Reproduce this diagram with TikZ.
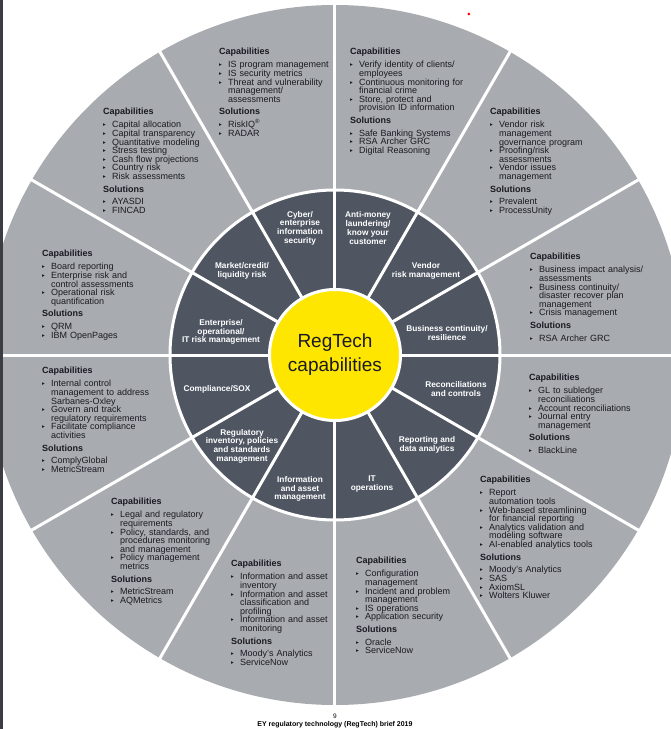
\documentclass[tikz,border=0pt]{standalone}
\usepackage{fontspec}
\setmainfont{Liberation Sans}
\newfontfamily\symfont{DejaVu Sans}
\usetikzlibrary{positioning}

\definecolor{eyyellow}{HTML}{FFE600}
\definecolor{outergray}{HTML}{A8ABAF}
\definecolor{innergray}{HTML}{4F5662}
\definecolor{eyink}{HTML}{1A1A24}
\definecolor{edgegray}{HTML}{3C3C44}

\newcommand{\blockfont}{\fontsize{9}{8.6}\selectfont\lineskiplimit=-9pt}
\newcommand{\areafont}{\fontsize{8.3}{8.7}\selectfont\bfseries\lineskiplimit=-9pt}
\newcommand{\bitem}[1]{\par\hangindent=9pt\hangafter=1\noindent\makebox[9pt][l]{\raisebox{1.1pt}{\symfont\fontsize{5.5}{5.5}\selectfont ▸}}{\let\\\newline#1}}
\newcommand{\caphead}{\noindent\textbf{Capabilities}\par\vspace{4.6pt}}
\newcommand{\solhead}{\par\vspace{4pt}\noindent\textbf{Solutions}\par\vspace{4.2pt}}

\tikzstyle{capbox} = [anchor=north west, inner sep=0pt, text width=160pt, align=left, text=eyink, font=\blockfont]
\tikzstyle{area} = [inner sep=0pt, align=center, text=white, font=\areafont]
\tikzstyle{hub} = [circle, fill=eyyellow, draw=white, line width=3pt, minimum size=131pt, inner sep=0pt, align=center, text=eyink, font=\fontsize{19}{24}\selectfont]
\tikzstyle{divider} = [white, line width=3pt]

\begin{document}
\begin{tikzpicture}[x=1pt, y=1pt]
\useasboundingbox (-335,-374) rectangle (336,355);
\fill[white] (-335,-374) rectangle (336,355);

% rings
\fill[outergray] (0,0) circle (350pt);
\fill[innergray] (0,0) circle (165pt);
\foreach \a in {0,30,...,330}
  \draw[divider] (0,0) -- (\a:352pt);
\draw[white, line width=3pt] (0,0) circle (165pt);
\fill[edgegray] (-335,-374) rectangle (-332,355);
\fill[red] (134,341) circle (1.5pt);

\node (hub) [hub] at (0,0) {RegTech\\capabilities};

% inner ring
\node (cyber) [area] at (-35,127) {Cyber/\\enterprise\\information\\security};
\node (aml) [area] at (33,127) {Anti-money\\laundering/\\know your\\customer};
\node (vendor) [area] at (91,84) {Vendor\\risk management};
\node (bcm) [area] at (112,22) {Business continuity/\\resilience};
\node (recon) [area] at (121,-34) {Reconciliations\\and controls};
\node (report) [area] at (92,-90) {Reporting and\\data analytics};
\node (itops) [area] at (37,-129) {IT\\operations};
\node (info) [area] at (-35,-134) {Information\\and asset\\management};
\node (reg) [area] at (-93,-91) {Regulatory\\inventory, policies\\and standards\\management};
\node (sox) [area] at (-118,-34) {Compliance/SOX};
\node (erm) [area] at (-114,23) {Enterprise/\\operational/\\IT risk management};
\node (market) [area] at (-93,84) {Market/credit/\\liquidity risk};

% outer ring
\node (capcyber) [capbox] at (-116,307) {\caphead
  \bitem{IS program management}
  \bitem{IS security metrics}
  \bitem{Threat and vulnerability\\management/\\assessments}
  \solhead
  \bitem{RiskIQ\textsuperscript{®}}
  \bitem{RADAR}};

\node (capaml) [capbox] at (15,307) {\caphead
  \bitem{Verify identity of clients/\\employees}
  \bitem{Continuous monitoring for\\financial crime}
  \bitem{Store, protect and\\provision ID information}
  \solhead
  \bitem{Safe Banking Systems}
  \bitem{RSA Archer GRC}
  \bitem{Digital Reasoning}};

\node (capvendor) [capbox] at (155,247) {\caphead
  \bitem{Vendor risk\\management\\governance program}
  \bitem{Proofing/risk\\assessments}
  \bitem{Vendor issues\\management}
  \solhead
  \bitem{Prevalent}
  \bitem{ProcessUnity}};

\node (capbcm) [capbox] at (195,102) {\caphead
  \bitem{Business impact analysis/\\assessments}
  \bitem{Business continuity/\\disaster recover plan\\management}
  \bitem{Crisis management}
  \solhead
  \bitem{RSA Archer GRC}};

\node (caprecon) [capbox] at (194,-19) {\caphead
  \bitem{GL to subledger\\reconciliations}
  \bitem{Account reconciliations}
  \bitem{Journal entry\\management}
  \solhead
  \bitem{BlackLine}};

\node (capreport) [capbox] at (145,-121) {\caphead
  \bitem{Report\\automation tools}
  \bitem{Web-based streamlining\\for financial reporting}
  \bitem{Analytics validation and\\modeling software}
  \bitem{AI-enabled analytics tools}
  \solhead
  \bitem{Moody’s Analytics}
  \bitem{SAS}
  \bitem{AxiomSL}
  \bitem{Wolters Kluwer}};

\node (capitops) [capbox] at (21,-202) {\caphead
  \bitem{Configuration\\management}
  \bitem{Incident and problem\\management}
  \bitem{IS operations}
  \bitem{Application security}
  \solhead
  \bitem{Oracle}
  \bitem{ServiceNow}};

\node (capinfo) [capbox] at (-104,-205) {\caphead
  \bitem{Information and asset\\inventory}
  \bitem{Information and asset\\classification and\\profiling}
  \bitem{Information and asset\\monitoring}
  \solhead
  \bitem{Moody’s Analytics}
  \bitem{ServiceNow}};

\node (capreg) [capbox] at (-224,-143) {\caphead
  \bitem{Legal and regulatory\\requirements}
  \bitem{Policy, standards, and\\procedures monitoring\\and management}
  \bitem{Policy management\\metrics}
  \solhead
  \bitem{MetricStream}
  \bitem{AQMetrics}};

\node (capsox) [capbox] at (-293,-12) {\caphead
  \bitem{Internal control\\management to address\\Sarbanes-Oxley}
  \bitem{Govern and track\\regulatory requirements}
  \bitem{Facilitate compliance\\activities}
  \solhead
  \bitem{ComplyGlobal}
  \bitem{MetricStream}};

\node (caperm) [capbox] at (-293,105) {\caphead
  \bitem{Board reporting}
  \bitem{Enterprise risk and\\control assessments}
  \bitem{Operational risk\\quantification}
  \solhead
  \bitem{QRM}
  \bitem{IBM OpenPages}};

\node (capmarket) [capbox] at (-232,247) {\caphead
  \bitem{Capital allocation}
  \bitem{Capital transparency}
  \bitem{Quantitative modeling}
  \bitem{Stress testing}
  \bitem{Cash flow projections}
  \bitem{Country risk}
  \bitem{Risk assessments}
  \solhead
  \bitem{AYASDI}
  \bitem{FINCAD}};

% footer
\node (pagenum) [font=\fontsize{6.5}{7}\selectfont] at (0,-361) {9};
\node (brief) [anchor=south, inner sep=0pt, font=\fontsize{7}{8}\selectfont\bfseries] at (0,-373.2) {EY regulatory technology (RegTech) brief 2019};
\end{tikzpicture}
\end{document}
